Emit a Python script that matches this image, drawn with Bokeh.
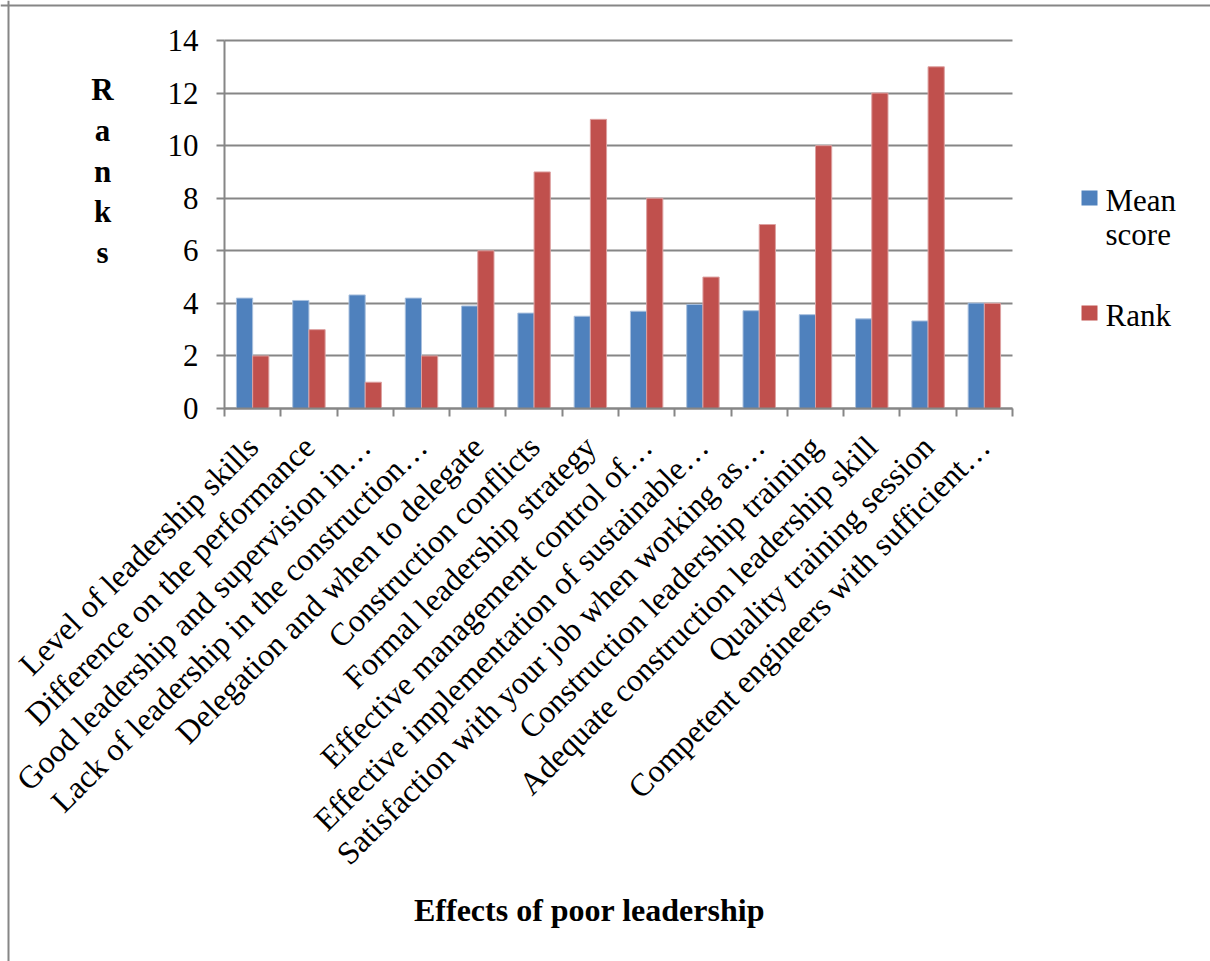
import math
from bokeh.plotting import figure
from bokeh.models import (ColumnDataSource, FixedTicker, Label, BoxAnnotation,
                          LinearAxis, Grid, Range1d, Span)
from bokeh.transform import dodge
from bokeh.embed import file_html
from bokeh.resources import INLINE

categories = [
    "Level of leadership skills",
    "Difference on the performance",
    "Good leadership and supervision in\u2026",
    "Lack of leadership in the construction\u2026",
    "Delegation and when to delegate",
    "Construction conflicts",
    "Formal leadership strategy",
    "Effective management control of\u2026",
    "Effective implementation of sustainable\u2026",
    "Satisfaction with your job when working as\u2026",
    "Construction leadership training",
    "Adequate construction leadership skill",
    "Quality training session",
    "Competent engineers with sufficient\u2026",
]
mean_score = [4.20, 4.11, 4.32, 4.20, 3.90, 3.63, 3.51, 3.70, 3.96, 3.72, 3.57, 3.41, 3.33, 4.01]
rank = [2, 3, 1, 2, 6, 9, 11, 8, 5, 7, 10, 12, 13, 4]
y_ticks = [0, 2, 4, 6, 8, 10, 12, 14]
series_names = ["Mean score", "Rank"]
x_title = "Effects of poor leadership"
y_title = "Ranks"
colors = ["#4F81BD", "#C0504D"]
outline = ["#A9C0DE", "#DDA0A0"]

# canvas / plot-area geometry (pixels, from top-left)
W, H = 1210, 961
FL, FR, FT, FB = 224, 1012, 40, 408
FONT = "Liberation Serif"
FS = "31px"
GREY = "#868686"
DY = 9  # baseline correction for labels

n = len(categories)
ymax = y_ticks[-1]
ppx = (FR - FL) / n
ppy = (FB - FT) / ymax

centers = [i + 0.5 for i in range(n)]
src = ColumnDataSource(dict(x=centers, mean=mean_score, rank=rank))

p = figure(width=W, height=H,
           x_range=Range1d(-FL / ppx, (W - FL) / ppx),
           y_range=Range1d(-(H - FB) / ppy, FB / ppy),
           x_axis_location=None, y_axis_location=None,
           output_backend="svg", toolbar_location=None,
           min_border=0, min_border_left=0, min_border_right=0,
           min_border_top=0, min_border_bottom=0)
p.outline_line_color = None
p.background_fill_color = "white"
p.border_fill_color = "white"
p.grid.visible = False

# horizontal gridlines restricted to the plot area
try:
    ygrid = Grid(dimension=1, ticker=FixedTicker(ticks=y_ticks), cross_bounds=(0, n),
                 grid_line_color=GREY, grid_line_width=2)
    p.add_layout(ygrid)
except AttributeError:
    p.segment(x0=0, x1=n, y0=y_ticks, y1=y_ticks, line_color=GREY, line_width=2)

bw = 0.288
r1 = p.vbar(x=dodge("x", -bw / 2, range=p.x_range), top="mean", width=bw, source=src,
            fill_color=colors[0], line_color=outline[0], line_width=1)
r2 = p.vbar(x=dodge("x", bw / 2, range=p.x_range), top="rank", width=bw, source=src,
            fill_color=colors[1], line_color=outline[1], line_width=1)

# y axis
ya = LinearAxis(fixed_location=0, bounds=(0, ymax), ticker=FixedTicker(ticks=y_ticks))
ya.major_tick_out = 8
ya.major_tick_in = 0
ya.minor_tick_out = 0
ya.minor_tick_in = 0
ya.axis_line_color = GREY
ya.axis_line_width = 2
ya.major_tick_line_color = GREY
ya.major_tick_line_width = 2
ya.major_label_text_font = FONT
ya.major_label_text_font_size = FS
ya.major_label_text_color = "black"
ya.major_label_standoff = 18
p.add_layout(ya, "left")

# x axis
xa = LinearAxis(fixed_location=0, bounds=(0, n),
                ticker=FixedTicker(ticks=centers, minor_ticks=list(range(n + 1))))
xa.major_label_overrides = {c: lab for c, lab in zip(centers, categories)}
xa.major_label_orientation = math.pi / 4
xa.major_tick_out = 0
xa.major_tick_in = 0
xa.minor_tick_out = 8
xa.minor_tick_in = 0
xa.minor_tick_line_color = GREY
xa.minor_tick_line_width = 2
xa.axis_line_color = GREY
xa.axis_line_width = 2
xa.major_label_text_font = FONT
xa.major_label_text_font_size = "32px"
xa.major_label_text_color = "black"
xa.major_label_standoff = 25
p.add_layout(xa, "below")


def sx(px):
    return px


def sy(py):
    return H - py


# outer border (only left and top edges are visible in the picture)
p.add_layout(Span(location=sx(8), location_units="screen", dimension="height",
                  line_color=GREY, line_width=2))
p.add_layout(Span(location=sy(5), location_units="screen", dimension="width",
                  line_color=GREY, line_width=2))

# x-axis title
p.add_layout(Label(x=sx(589), y=sy(918 - DY), x_units="screen", y_units="screen",
                   text=x_title, text_font=FONT,
                   text_font_size="32px", text_font_style="bold", text_align="center",
                   text_baseline="alphabetic", text_color="black"))

# y-axis title, stacked letters
for i, ch in enumerate(y_title):
    p.add_layout(Label(x=sx(102), y=sy(98 + i * 40.8 - DY), x_units="screen", y_units="screen",
                       text=ch, text_font=FONT, text_font_size=FS,
                       text_font_style="bold", text_align="center",
                       text_baseline="alphabetic", text_color="black"))

# legend
legend_rows = [(190, series_names[0].split(" ")), (305, [series_names[1]])]
for (top, lines), col in zip(legend_rows, colors):
    p.add_layout(BoxAnnotation(left=sx(1081), right=sx(1097), top=sy(top), bottom=sy(top + 15),
                               left_units="screen", right_units="screen",
                               top_units="screen", bottom_units="screen",
                               fill_color=col, fill_alpha=1, line_color=None))
    for j, ln in enumerate(lines):
        p.add_layout(Label(x=sx(1105), y=sy(top + 19 + j * 34 - DY), x_units="screen", y_units="screen",
                           text=ln, text_font=FONT, text_font_size=FS,
                           text_align="left", text_baseline="alphabetic",
                           text_color="black"))

open("out.html", "w").write(file_html(p, INLINE))
